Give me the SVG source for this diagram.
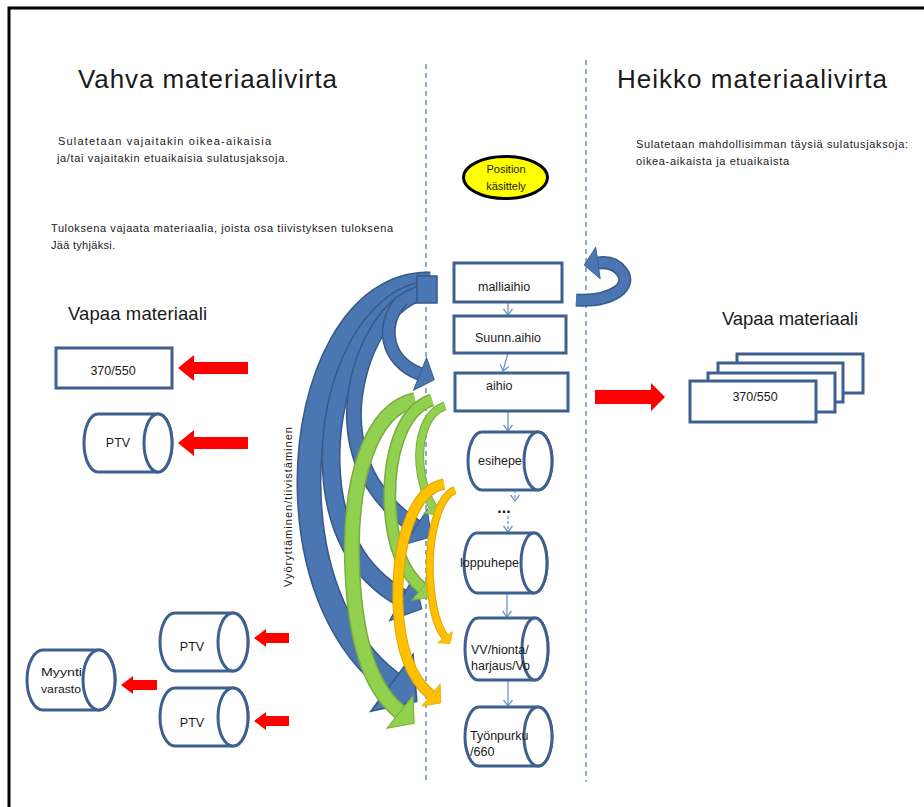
<svg xmlns="http://www.w3.org/2000/svg" width="924" height="807" viewBox="0 0 924 807">
  <style>
    text { font-family: "Liberation Sans", Arial, sans-serif; fill: #1a1a1a; }
    .title { font-size: 26px; }
    .sub { font-size: 18.5px; }
    .note { font-size: 11px; }
    .lbl { font-size: 12.5px; }
    .box { fill: #ffffff; stroke: #3d6090; stroke-width: 3; }
    .lane { stroke: #4f81bd; stroke-width: 1.3; stroke-dasharray: 5 4; fill: none; }
    .flow { stroke: #6d95c9; stroke-width: 1.3; fill: none; marker-end: url(#open); }
    .flow-d { stroke: #6d95c9; stroke-width: 1.3; fill: none; stroke-dasharray: 3 2; marker-end: url(#open); }
    .red { fill: #ff0000; }
    .b-out { fill: none; stroke: #37598a; stroke-linecap: butt; }
    .b-in { fill: none; stroke: #4a76b2; stroke-linecap: butt; marker-end: url(#hb); }
    .g-out { fill: none; stroke: #7aac3f; stroke-linecap: butt; }
    .g-in { fill: none; stroke: #92d050; stroke-linecap: butt; marker-end: url(#hg); }
    .o-out { fill: none; stroke: #e0a500; stroke-linecap: butt; }
    .o-in { fill: none; stroke: #ffc000; stroke-linecap: butt; marker-end: url(#ho); }
  </style>
  <defs>
    <marker id="hb" viewBox="-0.2 -1.8 1.8 3.6" refX="0" refY="0" markerWidth="1.8" markerHeight="3.6" orient="auto" markerUnits="strokeWidth" overflow="visible">
      <path d="M0,-1.6 L1.4,0 L0,1.6 Z" fill="#4a76b2" stroke="#37598a" stroke-width="0.08"/>
    </marker>
    <marker id="hg" viewBox="-0.2 -1.8 1.8 3.6" refX="0" refY="0" markerWidth="1.8" markerHeight="3.6" orient="auto" markerUnits="strokeWidth" overflow="visible">
      <path d="M0,-1.6 L1.4,0 L0,1.6 Z" fill="#92d050" stroke="#7aac3f" stroke-width="0.08"/>
    </marker>
    <marker id="ho" viewBox="-0.2 -1.8 1.8 3.6" refX="0" refY="0" markerWidth="1.8" markerHeight="3.6" orient="auto" markerUnits="strokeWidth" overflow="visible">
      <path d="M0,-1.6 L1.4,0 L0,1.6 Z" fill="#ffc000" stroke="#e0a500" stroke-width="0.08"/>
    </marker>
    <marker id="open" viewBox="-7 -5 8 10" refX="0" refY="0" markerWidth="8" markerHeight="10" orient="auto" markerUnits="userSpaceOnUse">
      <path d="M-6,-4.5 L0,0 L-6,4.5" fill="none" stroke="#6d95c9" stroke-width="1.3"/>
    </marker>
  </defs>

  <rect width="924" height="807" fill="#ffffff"/>
  <!-- page frame -->
  <rect x="9" y="8" width="940" height="830" fill="none" stroke="#000000" stroke-width="3"/>

  <!-- lane separators -->
  <line class="lane" x1="426" y1="64" x2="426" y2="782"/>
  <line class="lane" x1="586" y1="60" x2="586" y2="782"/>

  <!-- headings and notes -->
  <text class="title" x="78" y="88" textLength="259">Vahva materiaalivirta</text>
  <text class="title" x="617" y="88" textLength="270">Heikko materiaalivirta</text>
  <text class="note" x="58" y="145" textLength="213">Sulatetaan vajaitakin oikea-aikaisia</text>
  <text class="note" x="57" y="162" textLength="231">ja/tai vajaitakin etuaikaisia sulatusjaksoja.</text>
  <text class="note" x="51" y="232" textLength="342">Tuloksena vajaata materiaalia, joista osa tiivistyksen tuloksena</text>
  <text class="note" x="51" y="249" textLength="64">Jää tyhjäksi.</text>
  <text class="note" x="636" y="148" textLength="272">Sulatetaan mahdollisimman täysiä sulatusjaksoja:</text>
  <text class="note" x="636" y="165" textLength="153">oikea-aikaista ja etuaikaista</text>
  <text class="sub" x="68" y="320" textLength="139">Vapaa materiaali</text>
  <text class="sub" x="722" y="325" textLength="136">Vapaa materiaali</text>
  <text class="note" transform="translate(292,507) rotate(-90)" text-anchor="middle" textLength="160">Vyöryttäminen/tiivistäminen</text>

  <!-- curved flows -->
  <g id="connectors">
    <!-- blue: roll-over / compaction -->
    <path class="b-out" stroke-width="25" d="M430 284 C355 282,308 380,309 485 C310 580,345 648,392 683"/>
    <path class="b-in" stroke-width="22" d="M430 284 C355 282,308 380,309 485 C310 580,345 648,392 683"/>
    <path class="b-out" stroke-width="19" d="M428 290 C370 295,330 380,331 460 C332 530,360 575,402 598"/>
    <path class="b-in" stroke-width="16" d="M428 290 C370 295,330 380,331 460 C332 530,360 575,402 598"/>
    <path class="b-out" stroke-width="16" d="M426 292 C380 300,352 370,354 420 C356 470,382 505,416 527"/>
    <path class="b-in" stroke-width="13" d="M426 292 C380 300,352 370,354 420 C356 470,382 505,416 527"/>
    <path class="b-out" stroke-width="14" d="M402 300 C380 325,385 360,420 374"/>
    <path class="b-in" stroke-width="11" d="M402 300 C380 325,385 360,420 374"/>
    <rect x="417" y="276" width="20" height="27" fill="#4a76b2" stroke="#37598a" stroke-width="1.5"/>

    <!-- green -->
    <path class="g-out" stroke-width="16" d="M415 400 C370 410,350 480,352 560 C354 640,370 688,400 712"/>
    <path class="g-in" stroke-width="13" d="M415 400 C370 410,350 480,352 560 C354 640,370 688,400 712"/>
    <path class="g-out" stroke-width="13" d="M432 400 C400 410,388 460,390 505 C392 545,404 573,422 588"/>
    <path class="g-in" stroke-width="10" d="M432 400 C400 410,388 460,390 505 C392 545,404 573,422 588"/>
    <path class="g-out" stroke-width="9" d="M445 406 C425 412,418 440,420 465 C422 485,427 498,433 507"/>
    <path class="g-in" stroke-width="7" d="M445 406 C425 412,418 440,420 465 C422 485,427 498,433 507"/>

    <!-- orange -->
    <path class="o-out" stroke-width="11" d="M444 484 C412 490,396 545,398 605 C400 655,414 681,431 695"/>
    <path class="o-in" stroke-width="9" d="M444 484 C412 490,396 545,398 605 C400 655,414 681,431 695"/>
    <path class="o-out" stroke-width="8" d="M455 490 C437 497,428 540,430 578 C432 610,437 626,445 637"/>
    <path class="o-in" stroke-width="6" d="M455 490 C437 497,428 540,430 578 C432 610,437 626,445 637"/>

    <!-- loop back on the right lane -->
    <path class="b-out" stroke-width="13" d="M576 300 C615 302,632 285,622 272 C615 262,605 262,598 263"/>
    <path class="b-in" stroke-width="10" d="M576 300 C615 302,632 285,622 272 C615 262,605 262,598 263"/>

    <!-- process chain -->
    <line class="flow" x1="508" y1="302" x2="508" y2="315"/>
    <line class="flow" x1="508" y1="353" x2="503" y2="371"/>
    <line class="flow" x1="508" y1="411" x2="508" y2="431"/>
    <line class="flow-d" x1="515" y1="480" x2="515" y2="501"/>
    <line class="flow-d" x1="508" y1="516" x2="508" y2="532"/>
    <line class="flow" x1="507" y1="594" x2="507" y2="617"/>
    <line class="flow" x1="508" y1="681" x2="508" y2="706"/>

    <!-- red material arrows -->
    <polygon class="red" points="178,368 194,355 194,362 248,362 248,374 194,374 194,381"/>
    <polygon class="red" points="178,443 194,430 194,437 248,437 248,449 194,449 194,456"/>
    <polygon class="red" points="254,638 266,629 266,633 289,633 289,643 266,643 266,647"/>
    <polygon class="red" points="254,721 266,712 266,716 289,716 289,726 266,726 266,730"/>
    <polygon class="red" points="121,685 133,676 133,680 157,680 157,690 133,690 133,694"/>
    <polygon class="red" points="595,390 651,390 651,383 665,397 651,411 651,404 595,404"/>
  </g>

  <!-- centre lane nodes -->
  <g id="position">
    <ellipse cx="505.5" cy="177.5" rx="42" ry="21" fill="#ffff00" stroke="#000000" stroke-width="3"/>
    <text class="note" x="506" y="173" text-anchor="middle" font-size="12">Position</text>
    <text class="note" x="506" y="190" text-anchor="middle" font-size="12">käsittely</text>
  </g>
  <g id="malliaihio">
    <rect class="box" x="454" y="263" width="108" height="39"/>
    <text class="lbl" x="478" y="291">malliaihio</text>
  </g>
  <g id="suunn-aihio">
    <rect class="box" x="454" y="316" width="112" height="37"/>
    <text class="lbl" x="475" y="342">Suunn.aihio</text>
  </g>
  <g id="aihio">
    <rect class="box" x="455" y="373" width="113" height="38"/>
    <text class="lbl" x="486" y="390">aihio</text>
  </g>
  <g id="esihepe">
    <path class="box" d="M482 432 L538 432 A14 29 0 0 1 538 490 L482 490 A14 29 0 0 1 482 432 Z"/>
    <ellipse class="box" cx="538" cy="461" rx="14" ry="29"/>
    <text class="lbl" x="478" y="465">esihepe</text>
  </g>
  <g id="dots">
    <text x="504" y="513" text-anchor="middle" font-size="16" font-weight="bold">...</text>
  </g>
  <g id="loppuhepe">
    <path class="box" d="M477 533 L534 533 A13 30 0 0 1 534 593 L477 593 A13 30 0 0 1 477 533 Z"/>
    <ellipse class="box" cx="534" cy="563" rx="13" ry="30"/>
    <text class="lbl" x="460" y="567" textLength="59" lengthAdjust="spacingAndGlyphs">loppuhepe</text>
  </g>
  <g id="vv-hionta">
    <path class="box" d="M478 618 L535 618 A13 31 0 0 1 535 680 L478 680 A13 31 0 0 1 478 618 Z"/>
    <ellipse class="box" cx="535" cy="649" rx="13" ry="31"/>
    <text class="lbl" x="471" y="654">VV/hionta/</text>
    <text class="lbl" x="471" y="670">harjaus/Vo</text>
  </g>
  <g id="tyonpurku">
    <path class="box" d="M479 707 L538 707 A14 29.5 0 0 1 538 766 L479 766 A14 29.5 0 0 1 479 707 Z"/>
    <ellipse class="box" cx="538" cy="736.5" rx="14" ry="29.5"/>
    <text class="lbl" x="470" y="740">Työnpurku</text>
    <text class="lbl" x="470" y="756">/660</text>
  </g>

  <!-- left lane nodes -->
  <g id="vapaa-370-left">
    <rect class="box" x="56" y="348" width="116" height="40"/>
    <text class="lbl" x="113" y="375" text-anchor="middle">370/550</text>
  </g>
  <g id="ptv-free">
    <path class="box" d="M98 414 L158 414 A14 29 0 0 1 158 472 L98 472 A14 29 0 0 1 98 414 Z"/>
    <ellipse class="box" cx="158" cy="443" rx="14" ry="29"/>
    <text class="lbl" x="118" y="447" text-anchor="middle">PTV</text>
  </g>
  <g id="ptv-1">
    <path class="box" d="M175 613 L233 613 A15 29 0 0 1 233 671 L175 671 A15 29 0 0 1 175 613 Z"/>
    <ellipse class="box" cx="233" cy="642" rx="15" ry="29"/>
    <text class="lbl" x="192" y="651" text-anchor="middle">PTV</text>
  </g>
  <g id="ptv-2">
    <path class="box" d="M175 688 L233 688 A15 29 0 0 1 233 746 L175 746 A15 29 0 0 1 175 688 Z"/>
    <ellipse class="box" cx="233" cy="717" rx="15" ry="29"/>
    <text class="lbl" x="192" y="727" text-anchor="middle">PTV</text>
  </g>
  <g id="myyntivarasto">
    <path class="box" d="M43 650 L99 650 A16 30 0 0 1 99 710 L43 710 A16 30 0 0 1 43 650 Z"/>
    <ellipse class="box" cx="99" cy="680" rx="16" ry="30"/>
    <text x="41" y="676" font-size="11.5" textLength="41" lengthAdjust="spacingAndGlyphs">Myynti</text>
    <text x="41" y="693" font-size="11.5" textLength="40" lengthAdjust="spacingAndGlyphs">varasto</text>
  </g>

  <!-- right lane stack -->
  <g id="vapaa-370-right">
    <rect class="box" x="737" y="354" width="126" height="39"/>
    <rect class="box" x="718" y="363" width="125" height="39"/>
    <rect class="box" x="708" y="373" width="127" height="39"/>
    <rect class="box" x="690" y="381" width="126" height="41"/>
    <text class="lbl" x="755" y="401" text-anchor="middle">370/550</text>
  </g>
</svg>
